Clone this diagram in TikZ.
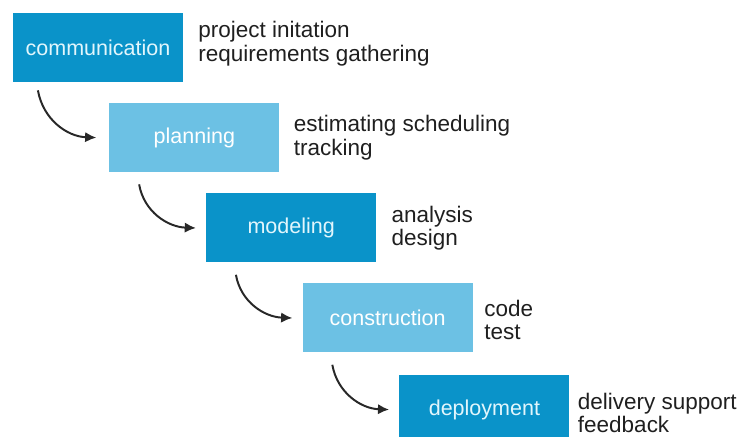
\documentclass[tikz,border=0pt]{standalone}
\usepackage{fontspec}
\setsansfont{Liberation Sans}
\usepackage{tikz}
\usetikzlibrary{calc}
\usetikzlibrary{arrows.meta}
\tikzset{>={Latex[length=2.8mm,width=2.6mm]}}
\definecolor{darkphase}{RGB}{10,147,201}
\definecolor{lightphase}{RGB}{108,193,228}
\definecolor{phasetext}{RGB}{226,246,252}
\definecolor{arrowgray}{RGB}{40,40,40}
\tikzset{
	phase/.style={minimum width=4.25cm,minimum height=1.725cm,inner sep=0pt,text=phasetext,font=\sffamily\fontsize{15.3}{16}\selectfont},
	darkbox/.style={phase,fill=darkphase},
	lightbox/.style={phase,fill=lightphase,text=white},
	tasks/.style={anchor=west,align=left,inner sep=0pt,text=black!88,font=\sffamily\fontsize{16}{16.6}\selectfont},
	flow/.style={->,draw=arrowgray,line width=1.4pt,out=-80,in=178}
}

\begin{document}
\begin{tikzpicture}[font=\sffamily]
	\clip (0,0) rectangle (18.7,-10.925);
	\node[darkbox] (communication) at (2.45,-1.19) {communication};
	\node[lightbox] (planning) at (4.86,-3.44) {planning};
	\node[darkbox] (modeling) at (7.28,-5.70) {modeling};
	\node[lightbox] (construction) at (9.69,-7.95) {construction};
	\node[darkbox] (deployment) at (12.11,-10.24) {deployment};
	\node[tasks] (commtasks) at ([xshift=0.37cm,yshift=0.1cm]communication.east) {project initation\\requirements gathering};
	\node[tasks] (plantasks) at ([xshift=0.35cm]planning.east) {estimating scheduling\\tracking};
	\node[tasks] (modeltasks) at ([xshift=0.37cm]modeling.east) {analysis\\design};
	\node[tasks] (consttasks) at ([xshift=0.28cm,yshift=-0.05cm]construction.east) {code\\test};
	\node[tasks] (deploytasks) at ([xshift=0.2cm,yshift=-0.08cm]deployment.east) {delivery support\\feedback};
	\draw[flow] ([xshift=0.63cm,yshift=-0.2cm]communication.south west) to ([xshift=-0.32cm]planning.west);
	\draw[flow] ([xshift=0.75cm,yshift=-0.3cm]planning.south west) to ([xshift=-0.25cm]modeling.west);
	\draw[flow] ([xshift=0.75cm,yshift=-0.3cm]modeling.south west) to ([xshift=-0.25cm]construction.west);
	\draw[flow] ([xshift=0.75cm,yshift=-0.3cm]construction.south west) to ([xshift=-0.25cm]deployment.west);
\end{tikzpicture}
\end{document}
